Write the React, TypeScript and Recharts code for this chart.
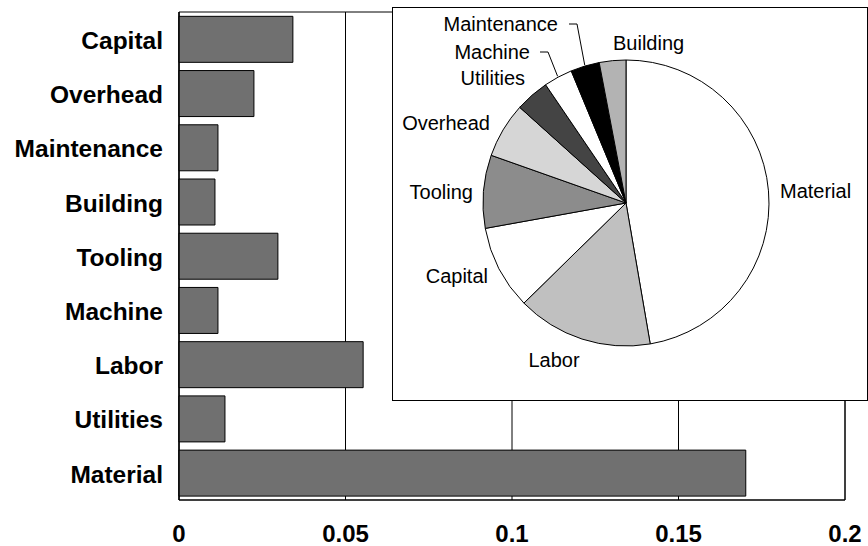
import {
  BarChart,
  Bar,
  XAxis,
  YAxis,
  CartesianGrid,
  ReferenceArea,
  PieChart,
  Pie,
  Cell,
} from "recharts";

// cost categories, top to bottom as in the bar chart
const categories = [
  "Capital",
  "Overhead",
  "Maintenance",
  "Building",
  "Tooling",
  "Machine",
  "Labor",
  "Utilities",
  "Material",
];
const costs = [0.0342, 0.0225, 0.0117, 0.0108, 0.0297, 0.0117, 0.0553, 0.0138, 0.1702];
const xTicks = [0, 0.05, 0.1, 0.15, 0.2];

// pie runs clockwise from 12 o'clock in this order
const pieOrder = [
  "Material",
  "Labor",
  "Capital",
  "Tooling",
  "Overhead",
  "Utilities",
  "Machine",
  "Maintenance",
  "Building",
];
const pieFills = ["#ffffff", "#c0c0c0", "#ffffff", "#8c8c8c", "#d6d6d6", "#444444", "#ffffff", "#000000", "#b3b3b3"];

const barData = categories.map((name, i) => ({ name, value: costs[i] }));
const pieData = pieOrder.map((name) => ({ name, value: costs[categories.indexOf(name)] }));

const FONT = "'Liberation Sans', Arial, Helvetica, sans-serif";

// label anchors relative to pie centre (excel-style placement)
const labelPos: Record<string, { dx: number; dy: number; anchor: "start" | "middle" | "end"; leader?: number }> = {
  Material: { dx: 154, dy: -12, anchor: "start" },
  Labor: { dx: -72, dy: 157, anchor: "middle" },
  Capital: { dx: -138, dy: 73, anchor: "end" },
  Tooling: { dx: -153, dy: -11, anchor: "end" },
  Overhead: { dx: -136, dy: -80, anchor: "end" },
  Utilities: { dx: -101, dy: -125, anchor: "end" },
  Machine: { dx: -96, dy: -151, anchor: "end", leader: 10 },
  Maintenance: { dx: -68, dy: -179, anchor: "end", leader: 11 },
  Building: { dx: -13, dy: -160, anchor: "start" },
};

const RAD = Math.PI / 180;

function PieLabel(props: any) {
  const { cx, cy, midAngle, outerRadius, name } = props;
  const p = labelPos[name];
  if (!p) return null;
  const tx = cx + p.dx;
  const ty = cy + p.dy;
  let leader = null;
  if (p.leader) {
    const ax = cx + (outerRadius + 1) * Math.cos(-midAngle * RAD);
    const ay = cy + (outerRadius + 1) * Math.sin(-midAngle * RAD);
    const x0 = tx + p.leader;
    const x1 = x0 + 8;
    leader = (
      <polyline
        points={`${x0},${ty} ${x1},${ty} ${ax},${ay}`}
        fill="none"
        stroke="#000"
        strokeWidth={1}
      />
    );
  }
  return (
    <g>
      {leader}
      <text x={tx} y={ty} dy="0.36em" textAnchor={p.anchor} fontSize={20} fontFamily={FONT} fill="#000">
        {name}
      </text>
    </g>
  );
}

function CatTick({ x, y, payload }: any) {
  return (
    <text x={x - 16} y={y + 1} dy="0.36em" textAnchor="end" fontSize={24.5} fontWeight="bold" fontFamily={FONT} fill="#000">
      {payload.value}
    </text>
  );
}

function ValTick({ x, y, payload }: any) {
  return (
    <text x={x} y={y + 33} dy="0.36em" textAnchor="middle" fontSize={24} fontWeight="bold" fontFamily={FONT} fill="#000">
      {payload.value}
    </text>
  );
}

export default function App() {
  return (
    <div style={{ position: "absolute", left: 0, top: 0, width: 868, height: 546, background: "#fff" }}>
      <BarChart
        width={868}
        height={546}
        data={barData}
        layout="vertical"
        margin={{ top: 12, right: 23, bottom: 16, left: 0 }}
        barCategoryGap="8%"
      >
        <CartesianGrid horizontal={false} stroke="#000" strokeWidth={1} />
        <XAxis
          type="number"
          domain={[0, 0.2]}
          ticks={xTicks}
          height={30}
          tickSize={0}
          tickMargin={0}
          tickLine={false}
          axisLine={{ stroke: "#000" }}
          tick={<ValTick />}
          interval={0}
        />
        <YAxis
          type="category"
          dataKey="name"
          width={179}
          tickSize={0}
          tickMargin={0}
          tickLine={false}
          axisLine={{ stroke: "#000" }}
          tick={<CatTick />}
          interval={0}
        />
        <ReferenceArea x1={0} x2={0.2} fill="none" fillOpacity={0} stroke="#000" strokeWidth={1} />
        <Bar dataKey="value" fill="#707070" stroke="#000" strokeWidth={1} isAnimationActive={false} />
      </BarChart>
      <div
        style={{
          position: "absolute",
          left: 392,
          top: 7,
          width: 476,
          height: 394,
          boxSizing: "border-box",
          border: "1px solid #000",
          background: "#fff",
        }}
      >
        <PieChart width={474} height={392} margin={{ top: 0, right: 0, bottom: 0, left: 0 }}>
          <Pie
            data={pieData}
            dataKey="value"
            nameKey="name"
            cx={233}
            cy={195}
            outerRadius={143}
            startAngle={90}
            endAngle={-270}
            stroke="#000"
            strokeWidth={1}
            label={PieLabel}
            labelLine={false}
            isAnimationActive={false}
          >
            {pieData.map((d, i) => (
              <Cell key={d.name} fill={pieFills[i]} />
            ))}
          </Pie>
        </PieChart>
      </div>
    </div>
  );
}
